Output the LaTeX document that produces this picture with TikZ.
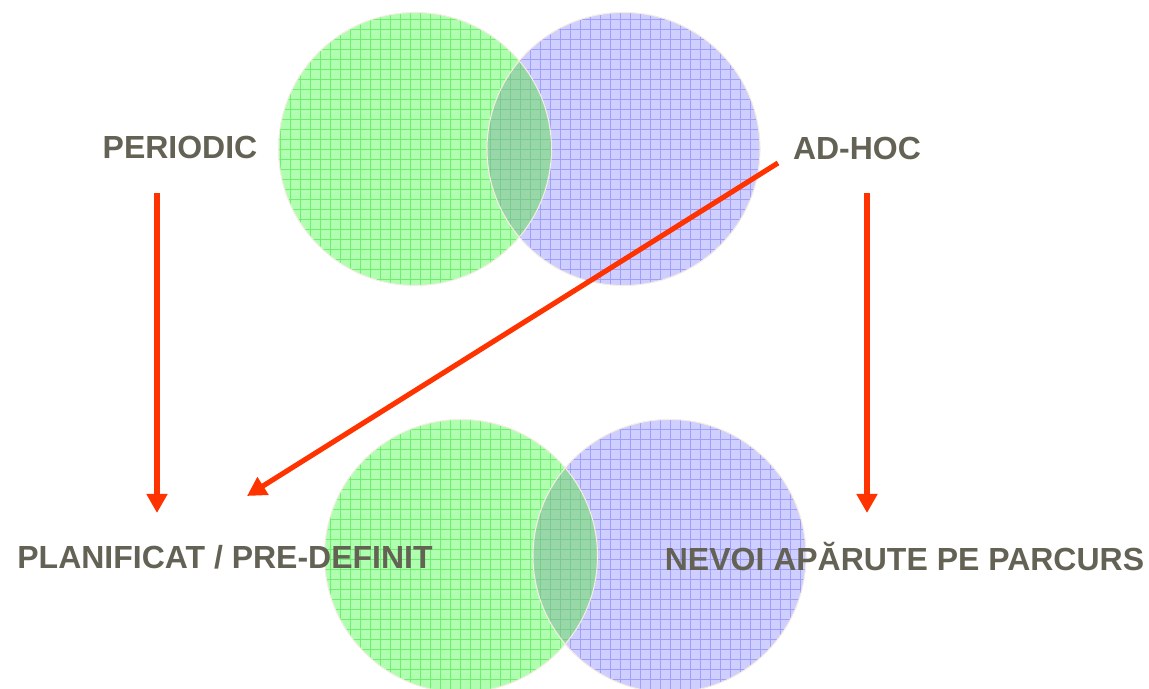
\documentclass[tikz,border=0pt]{standalone}
\usepackage{fontspec}
\setmainfont{Liberation Sans}
\usetikzlibrary{arrows.meta}
\usetikzlibrary{positioning}
\definecolor{vgreen}{RGB}{176,255,176}
\definecolor{vgreengrid}{RGB}{112,238,112}
\definecolor{vblue}{RGB}{206,206,255}
\definecolor{vbluegrid}{RGB}{160,160,250}
\definecolor{vlens}{RGB}{152,216,168}
\definecolor{vlensgrid}{RGB}{124,202,144}
\definecolor{txtgray}{RGB}{100,98,84}
\definecolor{arrred}{RGB}{255,51,0}
\tikzset{lbl/.style={font=\fontsize{18.2}{21}\selectfont\bfseries, text=txtgray, inner sep=2pt}}
\tikzset{flow/.style={draw=arrred, line width=2.9pt, -{Triangle[length=0.38cm,width=0.40cm]}}}
\tikzset{rim/.style={draw=white!85!brown, line width=0.6pt}}
\tikzset{>=stealth}

\begin{document}
\begin{tikzpicture}
        \useasboundingbox (0,0) rectangle (22.98,13.78);

        % the two Venn pairs
        \foreach \gx/\bx/\cy in {8.30/12.47/10.80, 9.22/13.39/2.66} {
            \fill[vblue] (\bx,\cy) circle (2.73);
            \begin{scope}
                \clip (\bx,\cy) circle (2.73);
                \draw[vbluegrid, line width=0.5pt, step=0.2] (\bx-3,\cy-3) grid (\bx+3,\cy+3);
            \end{scope}
            \fill[vgreen] (\gx,\cy) circle (2.73);
            \begin{scope}
                \clip (\gx,\cy) circle (2.73);
                \draw[vgreengrid, line width=0.5pt, step=0.2] (\gx-3,\cy-3) grid (\gx+3,\cy+3);
                \clip (\bx,\cy) circle (2.73);
                \fill[vlens] (\gx-3,\cy-3) rectangle (\bx+3,\cy+3);
                \draw[vlensgrid, line width=0.5pt, step=0.2] (\gx-3,\cy-3) grid (\bx+3,\cy+3);
            \end{scope}
            \draw[rim] (\gx,\cy) circle (2.73);
            \draw[rim] (\bx,\cy) circle (2.73);
        }

        \node[lbl] (periodic) at (3.60,10.82) {PERIODIC};
        \node[lbl] (adhoc) at (17.14,10.80) {AD-HOC};
        \node[lbl] (planif) at (4.50,2.64) {PLANIFICAT / PRE-DEFINIT};
        \node[lbl] (nevoi) at (18.09,2.64) {NEVOI APĂRUTE PE PARCURS};

        \coordinate (p1) at (3.14,9.92);
        \coordinate (p2) at (3.14,3.52);
        \coordinate (a1) at (17.34,9.92);
        \coordinate (a2) at (17.34,3.52);
        \coordinate (d1) at (15.56,10.52);
        \coordinate (d2) at (4.94,3.86);

        \draw[flow] (p1) -- (p2);
        \draw[flow] (a1) -- (a2);
        \draw[flow] (d1) -- (d2);

\end{tikzpicture}
\end{document}
